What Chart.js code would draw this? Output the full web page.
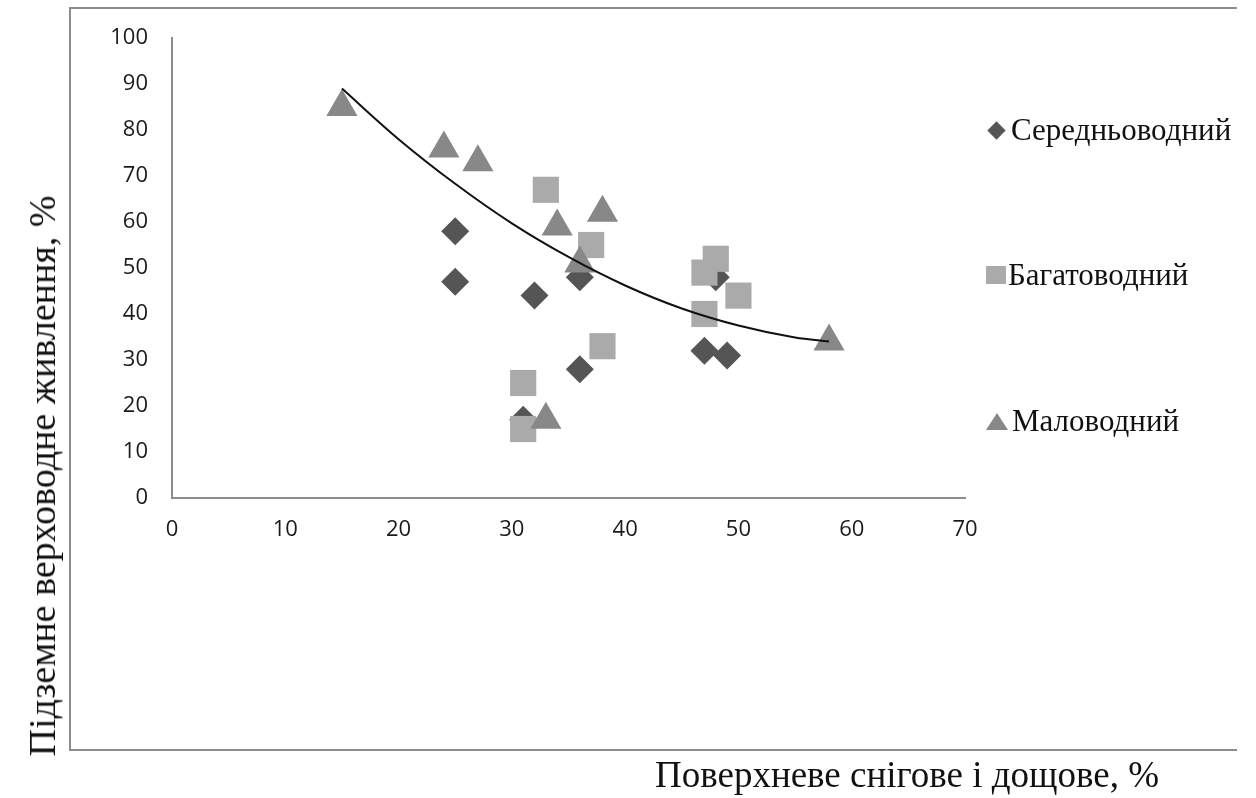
<!DOCTYPE html>
<html>
<head>
<meta charset="utf-8">
<script src="https://cdn.jsdelivr.net/npm/chart.js@4/dist/chart.umd.min.js"></script>
<style>
  body { margin: 0; background: #fff; }
  #wrap { position: relative; width: 1256px; height: 798px; overflow: hidden; }
  #frame {
    position: absolute; left: 69px; top: 7px; width: 1168px; height: 744px;
    border-left: 2px solid #8c8c8c; border-top: 2px solid #8c8c8c; border-bottom: 2px solid #8c8c8c;
    box-sizing: border-box;
  }
  canvas { position: absolute; left: 0; top: 0; }
  .serif { font-family: "Liberation Serif", "DejaVu Serif", serif; color: #111; white-space: nowrap; position: absolute; }
  #xtitle { left: 655px; top: 752px; font-size: 37px; line-height: 46px; }
  #ytitle { left: 42px; top: 476px; font-size: 38px; line-height: 46px; transform: translate(-50%, -50%) rotate(-90deg); }
  .leg { position: absolute; left: 986px; height: 36px; display: flex; align-items: center; }
  .leg span { font-family: "Liberation Serif", serif; font-size: 31px; line-height: 36px; color: #111; white-space: nowrap; }
  .dia { width: 13px; height: 13px; background: #555; transform: rotate(45deg); margin: 0 8px 0 4px; }
  .sq { width: 20px; height: 18px; background: #aaa; margin-right: 2px; }
  .tri { width: 0; height: 0; border-left: 11px solid transparent; border-right: 11px solid transparent; border-bottom: 17px solid #888; margin-right: 4px; }
</style>
</head>
<body>
<div id="wrap">
  <div id="frame"></div>
  <canvas id="chart" width="1256" height="798"></canvas>
  <div id="ytitle" class="serif">Підземне верховодне живлення, %</div>
  <div id="xtitle" class="serif">Поверхневе снігове і дощове, %</div>
  <div class="leg" style="top:112px"><div class="dia"></div><span>Середньоводний</span></div>
  <div class="leg" style="top:257px"><div class="sq"></div><span>Багатоводний</span></div>
  <div class="leg" style="top:403px"><div class="tri"></div><span>Маловодний</span></div>
</div>
<script>
const seriesNames = ['Середньоводний', 'Багатоводний', 'Маловодний'];

const seredX = [25, 25, 32, 36, 36, 31, 47, 49, 48];
const seredY = [58, 47, 44, 48, 28, 17, 32, 31, 48];

const bagatoX = [33, 37, 38, 31, 31, 47, 48, 47, 50];
const bagatoY = [67, 55, 33, 25, 15, 49, 52, 40, 44];

const maloX = [15, 24, 27, 34, 38, 36, 33, 58];
const maloY = [85, 76, 73, 59, 62, 51, 17, 34];

// trend curve, sampled along the drawn line
const trendX = [15, 20, 25, 30, 35, 40, 45, 50, 55, 58];
const trendY = [89, 78, 68.3, 59.7, 52.4, 46.2, 41.2, 37.5, 34.9, 34];

const xTicks = [0, 10, 20, 30, 40, 50, 60, 70];
const yTicks = [0, 10, 20, 30, 40, 50, 60, 70, 80, 90, 100];

const pts = (xs, ys) => xs.map((x, i) => ({ x: x, y: ys[i] }));

new Chart(document.getElementById('chart'), {
  type: 'scatter',
  data: {
    datasets: [
      {
        label: 'trend',
        data: pts(trendX, trendY),
        showLine: true,
        borderColor: '#111',
        borderWidth: 2,
        pointRadius: 0,
        cubicInterpolationMode: 'monotone',
        order: 0
      },
      {
        label: seriesNames[2],
        data: pts(maloX, maloY),
        pointStyle: 'triangle',
        pointRadius: 18,
        backgroundColor: '#888888',
        borderWidth: 0,
        order: 1
      },
      {
        label: seriesNames[1],
        data: pts(bagatoX, bagatoY),
        pointStyle: 'rect',
        pointRadius: 18.5,
        backgroundColor: '#aaaaaa',
        borderWidth: 0,
        order: 2
      },
      {
        label: seriesNames[0],
        data: pts(seredX, seredY),
        pointStyle: 'rectRot',
        pointRadius: 14,
        backgroundColor: '#555555',
        borderWidth: 0,
        order: 3
      }
    ]
  },
  options: {
    responsive: false,
    animation: false,
    events: [],
    layout: { padding: { left: 0, top: 38, right: 291, bottom: 0 } },
    plugins: { legend: { display: false }, tooltip: { enabled: false } },
    scales: {
      x: {
        type: 'linear',
        min: 0, max: 70,
        afterBuildTicks: s => { s.ticks = xTicks.map(v => ({ value: v })); },
        afterFit: s => { s.height = 300; },
        grid: { display: false, drawTicks: false },
        border: { display: true, color: '#8c8c8c', width: 2 },
        ticks: { padding: 19, color: '#1a1a1a', font: { family: 'Open Sans', size: 22 } }
      },
      y: {
        type: 'linear',
        min: 0, max: 100,
        afterBuildTicks: s => { s.ticks = yTicks.map(v => ({ value: v })); },
        afterFit: s => { s.width = 172; },
        grid: { display: false, drawTicks: false },
        border: { display: true, color: '#8c8c8c', width: 2 },
        ticks: { padding: 24, color: '#1a1a1a', font: { family: 'Open Sans', size: 22 } }
      }
    }
  }
});
</script>
</body>
</html>
